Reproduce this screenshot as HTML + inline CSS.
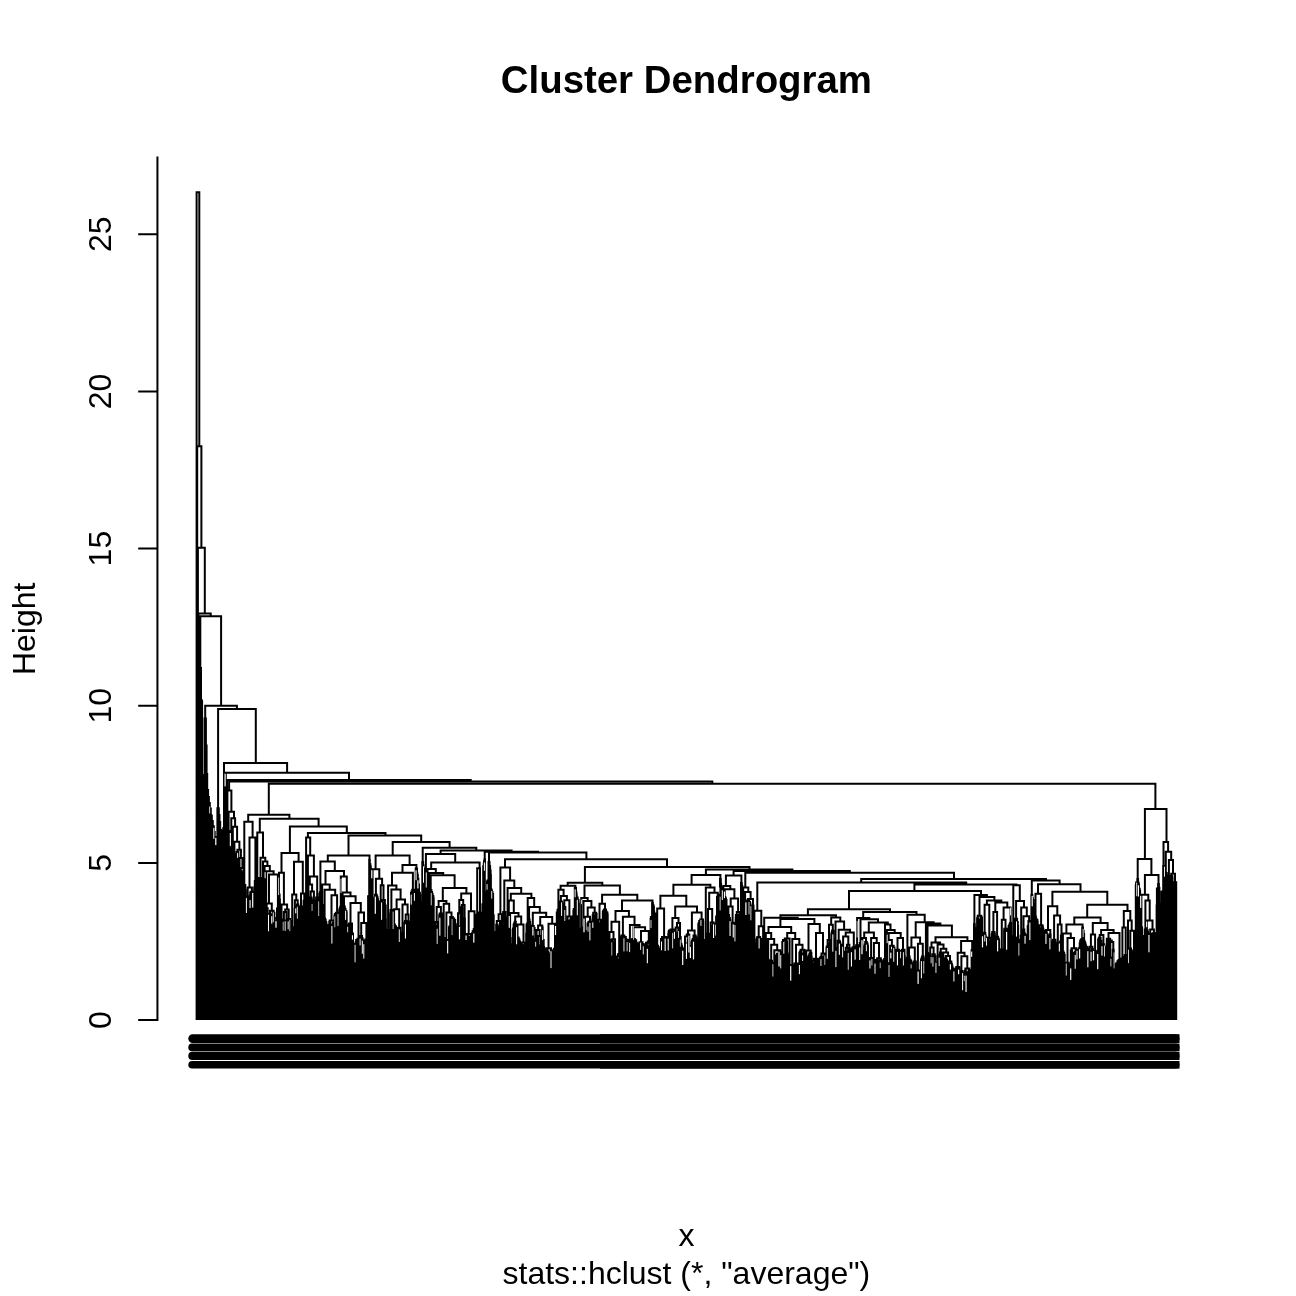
<!DOCTYPE html>
<html><head><meta charset="utf-8"><title>Cluster Dendrogram</title>
<style>
html,body{margin:0;padding:0;background:#fff;}
body{width:1296px;height:1296px;overflow:hidden;}
svg{display:block;}
text{font-family:"Liberation Sans",sans-serif;fill:#000;}
</style></head><body>
<svg width="1296" height="1296" viewBox="0 0 1296 1296">
<rect width="1296" height="1296" fill="#fff"/>
<text x="686.4" y="92.9" font-size="38.4" font-weight="bold" text-anchor="middle">Cluster Dendrogram</text>
<text x="686.4" y="1246" font-size="32" text-anchor="middle">x</text>
<text x="686.4" y="1284" font-size="32" text-anchor="middle">stats::hclust (*, "average")</text>
<text transform="translate(34.8 628.8) rotate(-90)" font-size="32" text-anchor="middle">Height</text>
<g font-size="32" text-anchor="middle">
<text transform="translate(111.1 1020) rotate(-90)">0</text>
<text transform="translate(111.1 862.9) rotate(-90)">5</text>
<text transform="translate(111.1 705.7) rotate(-90)">10</text>
<text transform="translate(111.1 548.6) rotate(-90)">15</text>
<text transform="translate(111.1 391.4) rotate(-90)">20</text>
<text transform="translate(111.1 234.3) rotate(-90)">25</text>
</g>
<path d="M157.44 156.4V1021M138.2 1020H157.44M138.2 862.9H157.44M138.2 705.7H157.44M138.2 548.6H157.44M138.2 391.4H157.44M138.2 234.3H157.44" stroke="#000" stroke-width="2" fill="none"/>
<path d="M198.4 1020V698.2H199.1V1020M200.9 1020V702.6H201.5V1020M201.2 702.6V701.3H202.1V1020M200.3 1020V700.1H201.6V701.3M199.7 1020V698.3H200.9V700.1M202.7 1020V853.6H203.3V1020M203 853.6V852.1H204V1020M204 852.1V850.1H204.6V1020M207.6 1020V848.8H208.2V1020M209.5 1020V843.4H210.1V1020M210.7 1020V844.6H211.3V1020M212.5 1020V841.8H213.1V1020M214.4 1020V844.8H215V1020M215.6 1020V853H216.2V1020M215.9 853V851.6H216.8V1020M219.9 1020V854.7H220.5V1020M221.1 1020V847.9H221.7V1020M221.4 847.9V842.3H222.3V1020M222.9 1020V831H223.6V1020M224.2 1020V831.1H224.8V1020M223.2 831V828.2H224.5V831.1M225.4 1020V844.7H226V1020M227.2 1020V846H227.8V1020M229.1 1020V835.7H229.7V1020M228.5 1020V831.1H229.4V835.7M230.3 1020V841H230.9V1020M230.6 841V835.8H231.5V1020M232.1 1020V857.8H232.7V1020M232.4 857.8V854.7H233.4V1020M235.2 1020V856.7H235.8V1020M234.6 1020V855.5H235.5V856.7M234 1020V853.9H234.8V855.5M237 1020V855.2H237.6V1020M236.4 1020V853.9H237.3V855.2M236.6 853.9V851.9H238.3V1020M238.9 1020V860.3H239.5V1020M240.7 1020V874H241.3V1020M241 874V872.7H241.9V1020M240.1 1020V871.3H241.5V872.7M242.5 1020V878.1H243.2V1020M242.9 878.1V876H243.8V1020M245 1020V890.1H245.6V1020M244.4 1020V885.1H245.3V890.1M247.4 1020V902.6H248.1V1020M246.8 1020V900.6H247.8V902.6M246.2 1020V898.9H246.9V900.6M248.7 1020V898.8H249.3V1020M246.6 898.9V896.8H249V898.8M249.9 1020V895.6H250.5V1020M250.2 895.6V893.1H251.1V1020M251.7 1020V895.9H252.3V1020M252 895.9V894.5H253V1020M252.7 894.5V893H253.6V1020M250.5 893.1V891.7H253.3V893M254.8 1020V889.2H255.4V1020M254.2 1020V887.4H255.1V889.2M254.8 887.4V881H256V1020M257.3 1020V881.5H257.9V1020M257.6 881.5V879.8H258.5V1020M256.6 1020V877.9H258V879.8M259.1 1020V882.2H259.7V1020M259.4 882.2V880.2H260.3V1020M260.9 1020V879.8H261.5V1020M259.8 880.2V878.1H261.2V879.8M262.2 1020V907.1H262.8V1020M262.5 907.1V905.1H263.4V1020M264.6 1020V901.4H265.2V1020M264 1020V889.8H264.9V901.4M265.8 1020V904.8H266.4V1020M268.3 1020V920.4H268.9V1020M267.7 1020V918.9H268.6V920.4M267.1 1020V908.2H267.7V918.9M270.1 1020V916.1H270.7V1020M269.5 1020V914H270.4V916.1M272 1020V918H272.6V1020M271.3 1020V916.6H272.3V918M273.2 1020V916.3H273.8V1020M271.9 916.6V914.6H273.5V916.3M272.7 914.6V912.8H274.4V1020M270 914V910.7H273.6V912.8M275 1020V928.6H275.6V1020M275.3 928.6V927.1H276.2V1020M275.9 927.1V925.7H276.9V1020M276.5 925.7V918H277.5V1020M277 918V908.6H278.1V1020M279.3 1020V899.5H279.9V1020M278.7 1020V894.5H279.6V899.5M281.1 1020V925.1H281.8V1020M281.4 925.1V923.5H282.4V1020M282 923.5V921.6H283V1020M280.5 1020V919.5H282.5V921.6M283.6 1020V927.6H284.2V1020M284.8 1020V930.1H285.4V1020M285.1 930.1V928.5H286V1020M285.9 928.5V920.4H286.7V1020M283.9 927.6V912H286.5V920.4M288.5 1020V924.5H289.1V1020M287.9 1020V922.6H288.8V924.5M287.3 1020V921H287.9V922.6M289.7 1020V921.1H290.3V1020M287.5 921V918.9H290V921.1M290.9 1020V931.3H291.6V1020M292.8 1020V933.2H293.4V1020M292.2 1020V931.1H293.1V933.2M292.5 931.1V929.2H294V1020M291.3 931.3V927.3H293.2V929.2M294.6 1020V908.7H295.2V1020M296.5 1020V913.1H297.1V1020M295.8 1020V909.3H296.8V913.1M296.3 909.3V906.8H297.7V1020M297 906.8V904.6H298.3V1020M294.9 908.7V900.3H297.7V904.6M298.9 1020V910.3H299.5V1020M299.2 910.3V908.6H300.1V1020M300.7 1020V910.7H301.4V1020M301.1 910.7V909.3H302V1020M301.8 909.3V907.9H302.6V1020M299.6 908.6V906.6H302.4V907.9M303.8 1020V912.1H304.4V1020M303.2 1020V910.4H304.1V912.1M303.6 910.4V900.7H305V1020M306.3 1020V901.3H306.9V1020M305.6 1020V899.5H306.6V901.3M307.5 1020V901.9H308.1V1020M308.7 1020V909H309.3V1020M310.5 1020V900.5H311.2V1020M310.9 900.5V899.2H311.8V1020M309.9 1020V897.4H311.5V899.2M312.4 1020V903.9H313V1020M312.7 903.9V902.3H313.6V1020M314.8 1020V905.1H315.5V1020M314.2 1020V903.6H315.1V905.1M313.2 902.3V900.8H314.6V903.6M316.7 1020V903.4H317.3V1020M317 903.4V901.4H317.9V1020M317.7 901.4V899.5H318.5V1020M316.1 1020V897.6H318.3V899.5M319.1 1020V898.7H319.7V1020M319.4 898.7V894.1H320.4V1020M319.8 894.1V892.3H321V1020M322.2 1020V914H322.8V1020M322.5 914V912H323.4V1020M321.6 1020V904.9H322.9V912M327.1 1020V927.6H327.7V1020M326.5 1020V925.6H327.4V927.6M325.9 1020V923.5H326.5V925.6M325.3 1020V922H326.2V923.5M324.6 1020V919.9H325.7V922M324 1020V918.5H325.2V919.9M328.3 1020V926.8H328.9V1020M328.6 926.8V925.1H329.5V1020M329.3 925.1V921.8H330.2V1020M330.8 1020V929.6H331.4V1020M331.1 929.6V928.1H332V1020M331.6 928.1V926H332.6V1020M332.2 926V924.6H333.2V1020M332.7 924.6V923.1H333.8V1020M329.7 921.8V920.5H333.3V923.1M335.7 1020V919.6H336.3V1020M335.1 1020V917.4H336V919.6M334.4 1020V915.8H335.2V917.4M336.9 1020V915.9H337.5V1020M334.8 915.8V914.1H337.2V915.9M338.1 1020V914.4H338.7V1020M335.9 914.1V912.8H338.4V914.4M339.3 1020V910.3H340V1020M339.6 910.3V908.7H340.6V1020M340.2 908.7V906.8H341.2V1020M341.8 1020V912.3H342.4V1020M342.1 912.3V908H343V1020M346.1 1020V912.5H346.7V1020M345.5 1020V910.9H346.4V912.5M344.9 1020V909H345.5V910.9M344.2 1020V907.3H344.9V909M343.6 1020V905.9H344.4V907.3M347.9 1020V930.9H348.5V1020M348.2 930.9V928.9H349.1V1020M347.3 1020V927H348.9V928.9M349.8 1020V926.9H350.4V1020M348.1 927V925.1H350.1V926.9M351.6 1020V946.4H352.2V1020M351.9 946.4V945.1H352.8V1020M353.4 1020V945.7H354V1020M352.4 945.1V943.8H353.7V945.7M351 1020V933.5H353V943.8M349 925.1V923.5H352V933.5M354.7 1020V945.9H355.3V1020M355 945.9V944H355.9V1020M355.7 944V942.2H356.5V1020M357.1 1020V944.9H357.7V1020M357.4 944.9V943.5H358.3V1020M358.2 943.5V941.4H358.9V1020M356.1 942.2V940.1H358.8V941.4M357.4 940.1V938.8H359.6V1020M360.2 1020V937.7H360.8V1020M362.6 1020V941H363.2V1020M362 1020V939.5H362.9V941M361.4 1020V938H362.5V939.5M360.5 937.7V935.9H362V938M363.8 1020V943.4H364.5V1020M365.7 1020V947H366.3V1020M365.1 1020V944.8H366V947M365.7 944.8V943.3H366.9V1020M364.2 943.4V941.4H366.3V943.3M365.2 941.4V939.5H367.5V1020M368.1 1020V896.3H368.7V1020M371.2 1020V901.9H371.8V1020M373 1020V908.3H373.7V1020M372.4 1020V903.5H373.3V908.3M374.3 1020V899.3H374.9V1020M374.6 899.3V897.8H375.5V1020M376.7 1020V900.7H377.3V1020M377 900.7V898.8H377.9V1020M376.1 1020V896.8H377.5V898.8M375 897.8V894.7H376.8V896.8M378.6 1020V908.6H379.2V1020M379.8 1020V907.2H380.4V1020M380.1 907.2V904.4H381V1020M378.9 908.6V902.6H380.6V904.4M379.8 902.6V901.4H381.6V1020M382.8 1020V905H383.5V1020M382.2 1020V902.6H383.1V905M384.7 1020V921.1H385.3V1020M385 921.1V919.3H385.9V1020M384.1 1020V905.6H385.7V919.3M386.5 1020V931.9H387.1V1020M387.7 1020V934.9H388.4V1020M388 934.9V933.4H389V1020M388.8 933.4V931.7H389.6V1020M386.8 931.9V930.2H389.4V931.7M390.8 1020V914.7H391.4V1020M390.2 1020V913.5H391.1V914.7M392 1020V912.3H392.6V1020M390.5 913.5V910H392.3V912.3M394.5 1020V931.4H395.1V1020M394.8 931.4V929.4H395.7V1020M395.4 929.4V928.1H396.3V1020M393.9 1020V926.3H396V928.1M393.3 1020V924.5H394.9V926.3M398.2 1020V935.5H398.8V1020M397.5 1020V933.4H398.5V935.5M396.9 1020V931.3H397.5V933.4M397.1 931.3V929.9H399.4V1020M400 1020V934.8H400.6V1020M398.3 929.9V927.8H400.3V934.8M401.2 1020V934.9H401.8V1020M402.4 1020V935.7H403.1V1020M402.8 935.7V934.2H403.7V1020M401.5 934.9V932.7H403.5V934.2M404.3 1020V933.1H404.9V1020M404.6 933.1V922.8H405.5V1020M406.1 1020V930.4H406.7V1020M405 922.8V921H406.4V930.4M407.3 1020V927.7H408V1020M409.2 1020V928.9H409.8V1020M409.5 928.9V924.8H410.4V1020M408.6 1020V923H410.2V924.8M407.7 927.7V921.5H409.4V923M411.6 1020V895.1H412.2V1020M411 1020V892.9H411.9V895.1M411.5 892.9V891.4H412.9V1020M413.5 1020V897.7H414.1V1020M412.2 891.4V889.7H413.8V897.7M414.7 1020V895.8H415.3V1020M415 895.8V890.5H415.9V1020M419.6 1020V895H420.2V1020M419 1020V892.8H419.9V895M418.4 1020V884.6H419V892.8M420.8 1020V904.3H421.4V1020M421.1 904.3V902.2H422V1020M423.9 1020V904.8H424.5V1020M425.1 1020V893.1H425.7V1020M425.4 893.1V886.9H426.3V1020M426.9 1020V893.9H427.6V1020M428.2 1020V900H428.8V1020M428.5 900V895.5H429.4V1020M431.2 1020V897.3H431.9V1020M433.1 1020V898.5H433.7V1020M432.5 1020V896.1H433.4V898.5M431.5 897.3V893.9H432.6V896.1M430.6 1020V891.9H432.1V893.9M430 1020V890.1H431.4V891.9M434.3 1020V924.9H434.9V1020M434.6 924.9V923.3H435.5V1020M436.1 1020V929.5H436.8V1020M436.4 929.5V927.6H437.4V1020M437.1 927.6V925.9H438V1020M437.7 925.9V923.9H438.6V1020M435.3 923.3V922H438.1V923.9M439.8 1020V916.6H440.4V1020M439.2 1020V915.3H440.1V916.6M441 1020V916.9H441.7V1020M441.3 916.9V915.7H442.3V1020M439.7 915.3V913.6H442.1V915.7M442.9 1020V939.5H443.5V1020M444.1 1020V939.7H444.7V1020M443.2 939.5V938.1H444.4V939.7M447.2 1020V946H447.8V1020M446.6 1020V944.8H447.5V946M445.9 1020V943H447.2V944.8M446.5 943V941.7H448.4V1020M445.3 1020V940H447.5V941.7M449.6 1020V930.6H450.2V1020M449 1020V927.6H449.9V930.6M449.5 927.6V926.3H450.8V1020M452.7 1020V930.4H453.3V1020M452.1 1020V925.9H453V930.4M452.5 925.9V922.1H453.9V1020M455.1 1020V928.5H455.7V1020M455.4 928.5V926.4H456.4V1020M454.5 1020V924.2H455.9V926.4M453.2 922.1V919.9H455.2V924.2M451.5 1020V918.4H454.2V919.9M450.2 926.3V917H452.8V918.4M457.6 1020V931H458.2V1020M457 1020V929.5H457.9V931M457.2 929.5V926.4H458.8V1020M459.4 1020V933.9H460V1020M459.7 933.9V928H460.6V1020M458 926.4V913.3H460.5V928M461.9 1020V931.3H462.5V1020M462.2 931.3V926.9H463.1V1020M461.3 1020V907.3H462.5V926.9M463.7 1020V921.6H464.3V1020M464 921.6V918.5H464.9V1020M461.9 907.3V905H464.6V918.5M459.3 913.3V900H463.2V905M465.5 1020V937.6H466.2V1020M467.4 1020V940.4H468V1020M466.8 1020V938.2H467.7V940.4M468.6 1020V939.1H469.2V1020M467 938.2V937H468.9V939.1M465.9 937.6V935.5H467.9V937M469.8 1020V941.6H470.4V1020M470.1 941.6V940.2H471.1V1020M466.8 935.5V933.9H470.6V940.2M471.7 1020V938.9H472.3V1020M472 938.9V933.3H472.9V1020M473.5 1020V935H474.1V1020M473.8 935V933.2H474.7V1020M472.7 933.3V931H474.6V933.2M473.7 931V929H475.3V1020M476 1020V927.2H476.6V1020M477.2 1020V918H477.8V1020M477.5 918V916.6H478.4V1020M476.3 927.2V914.8H478.3V916.6M479.6 1020V921.1H480.2V1020M479.9 921.1V916.8H480.9V1020M480.5 916.8V915.5H481.5V1020M479 1020V912.4H481V915.5M482.1 1020V928H482.7V1020M482.4 928V904.2H483.3V1020M485.8 1020V892.2H486.4V1020M487 1020V881.9H487.6V1020M487.3 881.9V880.4H488.2V1020M495 1020V936.1H495.6V1020M494.3 1020V934.2H495.3V936.1M493.7 1020V932H494.3V934.2M493.1 1020V915.2H493.7V932M492.5 1020V894H493.1V915.2M491.9 1020V892.1H492.5V894M491.3 1020V890.3H491.9V892.1M490.7 1020V888.9H491.3V890.3M496.8 1020V926.2H497.4V1020M496.2 1020V924.8H497.1V926.2M498 1020V929.6H498.6V1020M498.3 929.6V927.9H499.2V1020M498.9 927.9V926.4H499.9V1020M499.5 926.4V924.4H500.5V1020M500 924.4V923.1H501.1V1020M496.8 924.8V920.9H500.5V923.1M501.7 1020V917.1H502.3V1020M498.6 920.9V914.3H502V917.1M504.1 1020V918.2H504.8V1020M503.5 1020V915.8H504.4V918.2M502.9 1020V913.8H503.5V915.8M503.2 913.8V911.9H505.4V1020M506 1020V920.7H506.6V1020M506.3 920.7V918.8H507.2V1020M507 918.8V917.6H507.8V1020M508.4 1020V929.8H509V1020M511.5 1020V947.9H512.1V1020M510.9 1020V946.1H511.8V947.9M510.3 1020V944.6H510.9V946.1M509.7 1020V937.9H510.5V944.6M512.7 1020V930H513.3V1020M513 930V928.6H513.9V1020M513.6 928.6V924.6H514.6V1020M514.1 924.6V923.4H515.2V1020M514.6 923.4V921.7H515.8V1020M517 1020V942.1H517.6V1020M517.3 942.1V940.7H518.2V1020M519.5 1020V942.3H520.1V1020M518.8 1020V941H519.8V942.3M517.9 940.7V939.3H519.4V941M516.4 1020V937.6H518.6V939.3M521.3 1020V949.9H521.9V1020M521.6 949.9V948.1H522.5V1020M522 948.1V946.8H523.1V1020M520.7 1020V944.7H522.5V946.8M523.7 1020V947.2H524.4V1020M524.1 947.2V945.3H525V1020M524.8 945.3V943.9H525.6V1020M521.6 944.7V942.6H525.4V943.9M526.2 1020V933.7H526.8V1020M526.5 933.7V924.7H527.4V1020M527.1 924.7V923.4H528V1020M529.9 1020V925H530.5V1020M529.3 1020V922H530.2V925M528.6 1020V919.5H529.6V922M531.1 1020V929.1H531.7V1020M531.4 929.1V927.7H532.3V1020M534.2 1020V942.4H534.8V1020M534.5 942.4V940.5H535.4V1020M535 940.5V939H536V1020M533.5 1020V929.9H535.7V939M532.9 1020V927.9H534.6V929.9M531.8 927.7V926H533.8V927.9M537.8 1020V950.7H538.4V1020M538.1 950.7V949.3H539.1V1020M538.7 949.3V947.4H539.7V1020M537.2 1020V945.4H539.2V947.4M540.3 1020V950.9H540.9V1020M540.6 950.9V937.4H541.5V1020M538.2 945.4V935.9H541.1V937.4M536.6 1020V930.1H539.6V935.9M543.4 1020V947H544V1020M542.7 1020V939.9H543.7V947M542.1 1020V927.6H542.7V939.9M538.1 930.1V925.5H542.3V927.6M545.8 1020V953.9H546.4V1020M545.2 1020V952.3H546.1V953.9M544.6 1020V951H545.2V952.3M549.5 1020V958.7H550.1V1020M548.9 1020V957.2H549.8V958.7M548.3 1020V955.1H549V957.2M547.6 1020V953.3H548.6V955.1M547 1020V951.7H548.1V953.3M544.9 951V949.5H547.6V951.7M550.7 1020V949.9H551.3V1020M546.2 949.5V948.2H551V949.9M552.5 1020V957.5H553.2V1020M552.8 957.5V955.8H553.8V1020M553.3 955.8V954.1H554.4V1020M551.9 1020V952.1H553.8V954.1M552.9 952.1V950.5H555V1020M555.6 1020V954.9H556.2V1020M553.9 950.5V948.7H555.9V954.9M557.4 1020V916.8H558.1V1020M557.7 916.8V914.7H558.7V1020M556.8 1020V912.5H558.2V914.7M557.5 912.5V909.7H559.3V1020M560.5 1020V907.2H561.1V1020M560.8 907.2V905.5H561.7V1020M561.5 905.5V903.6H562.3V1020M559.9 1020V901.5H561.9V903.6M563 1020V908.4H563.6V1020M564.2 1020V910.3H564.8V1020M564.5 910.3V908.5H565.4V1020M563.3 908.4V907.1H565.3V908.5M567.2 1020V924.7H567.9V1020M566.6 1020V923.5H567.5V924.7M566 1020V921.9H566.7V923.5M568.5 1020V921.8H569.1V1020M566.4 921.9V920.4H568.8V921.8M569.7 1020V922.7H570.3V1020M570 922.7V920.6H570.9V1020M570.4 920.6V919.2H571.5V1020M572.1 1020V919.4H572.8V1020M571 919.2V917.8H572.5V919.4M573.4 1020V911.1H574V1020M573.7 911.1V908.9H574.6V1020M575.2 1020V904.8H575.8V1020M578.3 1020V903.7H578.9V1020M577.7 1020V900.2H578.6V903.7M577 1020V897.5H577.7V900.2M580.1 1020V936.8H580.7V1020M579.5 1020V932.6H580.4V936.8M579.8 932.6V930.9H581.3V1020M580.6 930.9V928.8H581.9V1020M582.6 1020V928.6H583.2V1020M582.9 928.6V927.4H583.8V1020M586.2 1020V936.5H586.8V1020M585.6 1020V934.9H586.5V936.5M585 1020V932.8H585.8V934.9M584.4 1020V931.1H585.4V932.8M588.1 1020V929.3H588.7V1020M588.4 929.3V927.2H589.3V1020M588.8 927.2V925.1H589.9V1020M587.5 1020V923.6H589.4V925.1M590.5 1020V926.9H591.1V1020M590.8 926.9V923.7H591.7V1020M588.4 923.6V921.7H591.6V923.7M592.4 1020V919.4H593V1020M593.6 1020V916.6H594.2V1020M592.7 919.4V915.2H593.9V916.6M594.8 1020V919H595.4V1020M595.1 919V915.3H596V1020M595.8 915.3V914H596.6V1020M593.2 915.2V912.8H596.2V914M599.1 1020V929.5H599.7V1020M599.4 929.5V927.6H600.3V1020M598.5 1020V925.5H600V927.6M597.9 1020V923.6H599.2V925.5M597.3 1020V922H598.6V923.6M601.6 1020V923.7H602.2V1020M600.9 1020V922H601.9V923.7M597.9 922V919.7H601.1V922M603.4 1020V913.5H604V1020M602.8 1020V911.9H603.7V913.5M604.6 1020V914.3H605.2V1020M603.2 911.9V910.7H604.9V914.3M607.1 1020V914.4H607.7V1020M606.5 1020V912.6H607.4V914.4M605.8 1020V911.4H606.5V912.6M604 910.7V909.4H606V911.4M608.3 1020V949.6H608.9V1020M608.6 949.6V947.2H609.5V1020M608.9 947.2V940.1H610.1V1020M611.4 1020V951.2H612V1020M610.7 1020V942.4H611.7V951.2M613.8 1020V946H614.4V1020M613.2 1020V944.2H614.1V946M612.6 1020V942.2H613.2V944.2M611.1 942.4V940.8H612.7V942.2M611.9 940.8V939.2H615V1020M609.5 940.1V931.9H613.5V939.2M618.1 1020V965.5H618.7V1020M617.5 1020V963.7H618.4V965.5M616.9 1020V961.8H618V963.7M616.3 1020V959.8H617.4V961.8M615.6 1020V958.5H616.9V959.8M619.3 1020V959.1H619.9V1020M616.2 958.5V956.4H619.6V959.1M617.9 956.4V954.3H620.5V1020M621.2 1020V936.8H621.8V1020M623 1020V940.1H623.6V1020M622.4 1020V938.6H623.3V940.1M624.2 1020V942.1H624.8V1020M624.5 942.1V940.7H625.4V1020M625.2 940.7V939.1H626.1V1020M622.8 938.6V936.9H625.8V939.1M621.5 936.8V935.4H624.3V936.9M627.9 1020V948.9H628.5V1020M627.3 1020V947.1H628.2V948.9M629.1 1020V947.1H629.7V1020M627.5 947.1V945.2H629.4V947.1M630.3 1020V945H631V1020M628.4 945.2V943.4H630.7V945M626.7 1020V941.3H629.6V943.4M628.1 941.3V939.7H631.6V1020M634 1020V947.2H634.6V1020M633.4 1020V945.5H634.3V947.2M633.8 945.5V943.6H635.2V1020M632.8 1020V941.8H634.5V943.6M636.5 1020V944.2H637.1V1020M635.9 1020V942.7H636.8V944.2M633.7 941.8V940.2H636.2V942.7M632.2 1020V939H634.9V940.2M638.3 1020V948.2H638.9V1020M637.7 1020V946.8H638.6V948.2M637.9 946.8V945.6H639.5V1020M640.1 1020V945H640.8V1020M638.7 945.6V943.5H640.5V945M642 1020V947.5H642.6V1020M641.4 1020V945.7H642.3V947.5M643.8 1020V947.4H644.4V1020M643.2 1020V945.8H644.1V947.4M641.6 945.7V944H643.4V945.8M639.5 943.5V942.3H642.5V944M646.3 1020V950H646.9V1020M645.7 1020V948.3H646.6V950M648.1 1020V950H648.7V1020M647.5 1020V948.1H648.4V950M646.1 948.3V946.3H647.7V948.1M645 1020V944.5H646.9V946.3M646 944.5V942.8H649.3V1020M647.7 942.8V941.5H649.9V1020M650.6 1020V918.8H651.2V1020M650.9 918.8V916.9H651.8V1020M654.8 1020V915.3H655.5V1020M654.2 1020V913.4H655.2V915.3M653.6 1020V911.7H654.2V913.4M656.1 1020V947.4H656.7V1020M658.5 1020V952.3H659.1V1020M659.8 1020V952H660.4V1020M658.8 952.3V950.1H660.1V952M657.9 1020V948.8H659.4V950.1M657.3 1020V947H658.6V948.8M656.4 947.4V945.7H658V947M661.6 1020V943.9H662.2V1020M661.9 943.9V942.1H662.8V1020M662.6 942.1V940.8H663.4V1020M661 1020V939H663V940.8M664 1020V941.8H664.7V1020M664.3 941.8V939.8H665.3V1020M665.9 1020V942.8H666.5V1020M666.2 942.8V941.5H667.1V1020M666.9 941.5V940.3H667.7V1020M664.8 939.8V938.3H667.6V940.3M662 939V937H666.2V938.3M668.3 1020V934H668.9V1020M668.6 934V931.9H669.6V1020M671.4 1020V939.8H672V1020M670.8 1020V937.9H671.7V939.8M671 937.9V936H672.6V1020M670.2 1020V934.4H671.8V936M671 934.4V932.7H673.2V1020M668.9 931.9V930.6H672.1V932.7M674.5 1020V934.1H675.1V1020M673.8 1020V932H674.8V934.1M670.5 930.6V929.4H674.3V932M676.3 1020V938.9H676.9V1020M676.6 938.9V936.8H677.5V1020M677.2 936.8V935.5H678.1V1020M677.8 935.5V932.7H678.7V1020M675.7 1020V927.6H678.3V932.7M680.6 1020V948.3H681.2V1020M682.4 1020V949.7H683V1020M681.8 1020V947.7H682.7V949.7M680.9 948.3V945.7H682V947.7M680 1020V943.7H681.4V945.7M679.4 1020V937H680.7V943.7M677 927.6V923.1H680V937M684.9 1020V955.1H685.5V1020M684.3 1020V951.6H685.2V955.1M683.6 1020V950.4H684.3V951.6M683.9 950.4V949H686.1V1020M686.7 1020V955.7H687.3V1020M687 955.7V943.4H687.9V1020M687.8 943.4V939.5H688.5V1020M685 949V936.5H688.4V939.5M690.4 1020V952.5H691V1020M689.8 1020V950.5H690.7V952.5M689.2 1020V946.1H689.8V950.5M686.7 936.5V934.4H689.3V946.1M691.6 1020V942.4H692.2V1020M692.8 1020V942.5H693.4V1020M691.9 942.4V940.7H693.1V942.5M694.1 1020V940.9H694.7V1020M692.6 940.7V938.9H694.4V940.9M697.1 1020V942.9H697.7V1020M696.5 1020V941H697.4V942.9M695.9 1020V939.1H696.5V941M695.3 1020V937.3H696.2V939.1M693.5 938.9V935.6H695.7V937.3M698.3 1020V924.2H699V1020M699.6 1020V925H700.2V1020M698.7 924.2V922.9H699.9V925M700.8 1020V923H701.4V1020M699.2 922.9V921.1H701.1V923M702 1020V924H702.6V1020M702.3 924V921.7H703.2V1020M700.2 921.1V919.4H703V921.7M703.9 1020V946.2H704.5V1020M704.2 946.2V944.2H705.1V1020M704.7 944.2V942H705.7V1020M705.2 942V940H706.3V1020M707.5 1020V942.8H708.1V1020M706.9 1020V940.1H707.8V942.8M709.4 1020V940H710V1020M708.8 1020V935.5H709.7V940M707.1 940.1V933.8H708.9V935.5M711.2 1020V929.8H711.8V1020M711.5 929.8V927.2H712.4V1020M712.3 927.2V925.6H713V1020M713.7 1020V929.2H714.3V1020M714 929.2V927.5H714.9V1020M712.9 925.6V924.3H714.7V927.5M710.6 1020V922.5H713.8V924.3M716.1 1020V942.2H716.7V1020M716.4 942.2V940H717.3V1020M715.5 1020V938.3H716.7V940M716.1 938.3V916.4H718V1020M717 916.4V896.8H718.6V1020M719.2 1020V896H719.8V1020M719.5 896V894.7H720.4V1020M725.3 1020V901.7H725.9V1020M725.6 901.7V900H726.5V1020M724.7 1020V898.5H726V900M724.1 1020V896.9H725.3V898.5M727.8 1020V920H728.4V1020M727.1 1020V916.3H728.1V920M729.6 1020V920H730.2V1020M729 1020V918H729.9V920M727.7 916.3V914.9H729.1V918M730.8 1020V924.3H731.4V1020M732 1020V929.1H732.7V1020M732.3 929.1V927.1H733.3V1020M732.8 927.1V925.6H733.9V1020M734.5 1020V925.3H735.1V1020M733.4 925.6V924.1H734.8V925.3M731.1 924.3V922.7H734.2V924.1M736.3 1020V919.9H736.9V1020M735.7 1020V917.7H736.6V919.9M738.2 1020V918H738.8V1020M737.6 1020V916.1H738.5V918M735.9 917.7V914.9H737.7V916.1M736.8 914.9V911.9H739.4V1020M740 1020V915.1H740.6V1020M740.3 915.1V912.6H741.2V1020M744.9 1020V906H745.5V1020M745.2 906V904.5H746.1V1020M744.3 1020V900.6H745.9V904.5M747.4 1020V905.5H748V1020M747.7 905.5V903.5H748.6V1020M749.2 1020V904.9H749.8V1020M749.5 904.9V903.4H750.4V1020M748.1 903.5V902H750V903.4M746.7 1020V900.5H749.1V902M751 1020V910H751.6V1020M751.3 910V908.3H752.3V1020M751.9 908.3V906.7H752.9V1020M752.5 906.7V905.5H753.5V1020M755.3 1020V947.1H755.9V1020M754.7 1020V945.8H755.6V947.1M754.1 1020V943.7H754.7V945.8M756.5 1020V939.8H757.2V1020M756.9 939.8V938.2H757.8V1020M758.4 1020V941.8H759V1020M758.7 941.8V939.9H759.6V1020M760.2 1020V940.3H760.8V1020M759.4 939.9V938.4H760.5V940.3M757.3 938.2V936.9H760.1V938.4M761.4 1020V942H762.1V1020M761.8 942V940.4H762.7V1020M762.5 940.4V938.9H763.3V1020M763.9 1020V941.5H764.5V1020M765.7 1020V948.3H766.3V1020M766 948.3V945.8H767V1020M765.1 1020V939.2H766.5V945.8M768.2 1020V967.4H768.8V1020M768.5 967.4V965.6H769.4V1020M767.6 1020V959.8H768.8V965.6M770.6 1020V964.3H771.2V1020M770 1020V962.1H770.9V964.3M773.1 1020V966.1H773.7V1020M772.5 1020V964.8H773.4V966.1M771.9 1020V962.8H772.5V964.8M770.4 962.1V960.8H772V962.8M774.9 1020V960.7H775.5V1020M775.2 960.7V959.2H776.2V1020M775.7 959.2V957.1H776.8V1020M777.4 1020V957H778V1020M776.2 957.1V955.6H777.7V957M778.6 1020V958.5H779.2V1020M778.9 958.5V956.9H779.8V1020M779.7 956.9V955.1H780.4V1020M777 955.6V953.8H780.3V955.1M781.1 1020V956.9H781.7V1020M778.7 953.8V952H781.4V956.9M774.3 1020V950.2H780.1V952M784.1 1020V960.4H784.7V1020M783.5 1020V946.8H784.4V960.4M784.1 946.8V945.1H785.3V1020M782.9 1020V943.4H784.7V945.1M782.3 1020V942H783.8V943.4M788.4 1020V958.9H789V1020M787.8 1020V957H788.7V958.9M787.2 1020V955.7H787.9V957M786.6 1020V953.6H787.5V955.7M786 1020V941.6H787.1V953.6M783 942V940H786.5V941.6M784.8 940V938.4H789.6V1020M790.2 1020V969.2H790.9V1020M791.5 1020V969H792.1V1020M790.5 969.2V967.3H791.8V969M792.7 1020V967.9H793.3V1020M793 967.9V966.5H793.9V1020M791.2 967.3V965.1H793.4V966.5M795.8 1020V970.2H796.4V1020M797 1020V972.3H797.6V1020M797.3 972.3V970.5H798.2V1020M796.1 970.2V968.4H798.1V970.5M795.1 1020V966.6H797.1V968.4M796.1 966.6V964.9H798.8V1020M794.5 1020V963.4H797.5V964.9M800 1020V954.9H800.7V1020M799.4 1020V952.7H800.3V954.9M799.9 952.7V951.5H801.3V1020M801.9 1020V958.8H802.5V1020M802.2 958.8V956.8H803.1V1020M802.7 956.8V954.6H803.7V1020M803.4 954.6V953.4H804.3V1020M803.8 953.4V951.2H804.9V1020M800.6 951.5V949.8H804.4V951.2M805.6 1020V967.3H806.2V1020M805.9 967.3V962.7H806.8V1020M808 1020V961.7H808.6V1020M807.4 1020V959.6H808.3V961.7M807.9 959.6V957.6H809.2V1020M808.6 957.6V956H809.8V1020M809.2 956V954.3H810.5V1020M811.1 1020V957.1H811.7V1020M809.8 954.3V952.7H811.4V957.1M806.3 962.7V950.6H810.7V952.7M812.9 1020V966.7H813.5V1020M813.2 966.7V965.2H814.1V1020M813.9 965.2V963.8H814.7V1020M815.4 1020V965.6H816V1020M815.7 965.6V963.9H816.6V1020M814.6 963.8V962.4H816.4V963.9M812.3 1020V960.7H815.5V962.4M817.2 1020V961.8H817.8V1020M818.4 1020V962.3H819V1020M817.5 961.8V960.6H818.7V962.3M813.9 960.7V958.7H818.1V960.6M819.6 1020V959.7H820.3V1020M820.9 1020V959.3H821.5V1020M820 959.7V958H821.2V959.3M822.1 1020V958.2H822.7V1020M820.5 958V956.7H822.4V958.2M823.3 1020V958.1H823.9V1020M824.5 1020V959.9H825.2V1020M824.9 959.9V958.3H825.8V1020M823.6 958.1V956.4H825.5V958.3M821.5 956.7V953.5H824.5V956.4M826.4 1020V948.2H827V1020M827.6 1020V950.4H828.2V1020M827.9 950.4V948.5H828.8V1020M826.7 948.2V946.5H828.6V948.5M829.4 1020V943.5H830.1V1020M829.8 943.5V941.7H830.7V1020M827.6 946.5V940H830.4V941.7M831.3 1020V934.5H831.9V1020M831.6 934.5V932.7H832.5V1020M833.1 1020V939.8H833.7V1020M832 932.7V930.8H833.4V939.8M834.4 1020V951.7H835V1020M835.6 1020V952.2H836.2V1020M835.9 952.2V950.2H836.8V1020M834.7 951.7V948.1H836.4V950.2M838 1020V952.9H838.6V1020M837.4 1020V950.8H838.3V952.9M841.1 1020V953.6H841.7V1020M840.5 1020V944.9H841.4V953.6M839.9 1020V943.6H840.5V944.9M839.3 1020V942.1H840.1V943.6M837.7 950.8V940.8H839.7V942.1M842.9 1020V958.3H843.5V1020M843.2 958.3V955.9H844.2V1020M842.3 1020V953.5H844V955.9M844.8 1020V956H845.4V1020M846.6 1020V958.6H847.2V1020M846 1020V953H846.9V958.6M845.1 956V951.7H846.4V953M847.8 1020V959.1H848.4V1020M845.8 951.7V947.7H848.1V959.1M849.1 1020V957.8H849.7V1020M847 947.7V944.8H849.4V957.8M843.1 953.5V936.4H848.3V944.8M850.9 1020V958.3H851.5V1020M852.1 1020V958.7H852.7V1020M852.4 958.7V956.3H853.3V1020M851.2 958.3V952.2H852.9V956.3M850.3 1020V950.5H852.1V952.2M851.2 950.5V948.6H854V1020M854.6 1020V958H855.2V1020M852.6 948.6V947.3H854.9V958M855.8 1020V954.1H856.4V1020M857 1020V955H857.6V1020M857.3 955V950.3H858.2V1020M856.1 954.1V945.2H858V950.3M858.9 1020V957.4H859.5V1020M859.2 957.4V952.5H860.1V1020M860.7 1020V956.9H861.3V1020M859.8 952.5V943H861V956.9M863.1 1020V957.4H863.8V1020M862.5 1020V952.6H863.5V957.4M861.9 1020V951.3H862.7V952.6M864.4 1020V946.5H865V1020M864.7 946.5V944.7H865.6V1020M867.4 1020V946.3H868V1020M866.8 1020V944.6H867.7V946.3M866.2 1020V943.2H867.4V944.6M865.2 944.7V941.9H866.8V943.2M868.7 1020V962.2H869.3V1020M869.9 1020V962.8H870.5V1020M870.2 962.8V961.6H871.1V1020M869 962.2V960.1H871V961.6M871.7 1020V962.1H872.3V1020M870 960.1V958H872V962.1M874.2 1020V964H874.8V1020M873.6 1020V962.7H874.5V964M875.4 1020V963.1H876V1020M874.2 962.7V961.5H875.7V963.1M872.9 1020V960H874.9V961.5M876.6 1020V961.6H877.2V1020M876.9 961.6V959.5H877.8V1020M878.5 1020V965.1H879.1V1020M878.8 965.1V963.4H879.7V1020M879.5 963.4V961.3H880.3V1020M880.9 1020V961.9H881.5V1020M880.1 961.3V960H881.2V961.9M877.2 959.5V958.2H880.8V960M882.7 1020V965.1H883.4V1020M882.1 1020V963.6H883.1V965.1M882.7 963.6V962.2H884V1020M884.6 1020V962.2H885.2V1020M883.3 962.2V960.4H884.9V962.2M884.2 960.4V959.1H885.8V1020M886.4 1020V949.5H887V1020M888.9 1020V966.5H889.5V1020M888.3 1020V964.5H889.2V966.5M887.6 1020V963.2H888.3V964.5M890.7 1020V957.3H891.3V1020M891 957.3V955.2H891.9V1020M891.8 955.2V951.8H892.6V1020M893.2 1020V957.9H893.8V1020M892.4 951.8V950.1H893.5V957.9M893 950.1V947.4H894.4V1020M890.1 1020V945.7H893.7V947.4M895.6 1020V955.7H896.2V1020M895.9 955.7V954.3H896.8V1020M896.6 954.3V953H897.5V1020M895 1020V951.7H897V953M898.1 1020V953.3H898.7V1020M899.3 1020V953.9H899.9V1020M898.4 953.3V951.9H899.6V953.9M896 951.7V949.8H899V951.9M901.1 1020V957.9H901.7V1020M901.4 957.9V956H902.4V1020M901.9 956V954.7H903V1020M902.4 954.7V953.2H903.6V1020M900.5 1020V951H903V953.2M904.2 1020V956.2H904.8V1020M901.8 951V949.7H904.5V956.2M905.4 1020V963.2H906V1020M905.7 963.2V961.6H906.6V1020M906.3 961.6V960H907.3V1020M906.9 960V957.9H907.9V1020M910.9 1020V962.5H911.5V1020M910.3 1020V960.6H911.2V962.5M909.7 1020V959.4H910.3V960.6M909.1 1020V957.4H909.7V959.4M908.5 1020V955.9H909.4V957.4M912.2 1020V966.7H912.8V1020M912.5 966.7V964.6H913.4V1020M914 1020V967.1H914.6V1020M914.3 967.1V965.2H915.2V1020M912.8 964.6V963.3H914.8V965.2M913.8 963.3V961.4H915.8V1020M917.7 1020V975.4H918.3V1020M917.1 1020V973.8H918V975.4M916.4 1020V972H917.1V973.8M919.5 1020V974.4H920.1V1020M918.9 1020V972.5H919.8V974.4M916.8 972V970.4H919V972.5M920.7 1020V962.5H921.3V1020M921 962.5V960.3H922V1020M921.3 960.3V958.4H922.6V1020M923.2 1020V958.4H923.8V1020M922 958.4V956.6H923.5V958.4M924.4 1020V967.5H925V1020M924.7 967.5V965.6H925.6V1020M925.3 965.6V963.9H926.2V1020M927.5 1020V956.5H928.1V1020M927.8 956.5V955.2H928.7V1020M926.9 1020V953.1H928.1V955.2M930.5 1020V963H931.1V1020M929.9 1020V960.9H930.8V963M930.4 960.9V958.9H931.8V1020M929.3 1020V957.1H931.1V958.9M933 1020V961.2H933.6V1020M933.3 961.2V959.2H934.2V1020M933.6 959.2V957.6H934.8V1020M934.2 957.6V956.3H935.4V1020M932.4 1020V954.2H934.8V956.3M936.7 1020V965.5H937.3V1020M936 1020V964.1H937V965.5M937.9 1020V965H938.5V1020M938.2 965V963.5H939.1V1020M936.4 964.1V962.3H938.9V963.5M939.7 1020V954.8H940.3V1020M940.9 1020V954.3H941.6V1020M940 954.8V952.6H941.3V954.3M942.8 1020V969.8H943.4V1020M942.2 1020V967.9H943.1V969.8M942.4 967.9V966.3H944V1020M944.6 1020V961.2H945.2V1020M947.1 1020V963H947.7V1020M946.5 1020V961.7H947.4V963M945.9 1020V959.9H947V961.7M944.9 961.2V958.3H946.4V959.9M949.5 1020V966.7H950.1V1020M948.9 1020V965.3H949.8V966.7M948.3 1020V963.7H949.1V965.3M953.2 1020V970.5H953.8V1020M952.6 1020V968.7H953.5V970.5M952 1020V967.3H952.7V968.7M951.4 1020V965.6H952.3V967.3M950.8 1020V963.8H951.9V965.6M948.7 963.7V961.6H951.3V963.8M955 1020V973.4H955.7V1020M954.4 1020V971.6H955.3V973.4M954.9 971.6V969.9H956.3V1020M955.6 969.9V968.5H956.9V1020M957.5 1020V974.7H958.1V1020M957.8 974.7V972.1H958.7V1020M958.6 972.1V968.3H959.3V1020M956.2 968.5V967.1H959.2V968.3M959.9 1020V979.3H960.6V1020M961.2 1020V979H961.8V1020M963 1020V977.1H963.6V1020M962.4 1020V975.7H963.3V977.1M962.7 975.7V973.8H964.2V1020M961.5 979V972.5H963.5V973.8M960.2 979.3V971H962.5V972.5M965.5 1020V972H966.1V1020M964.8 1020V970.7H965.8V972M966.7 1020V977.3H967.3V1020M967 977.3V975.9H967.9V1020M967.5 975.9V974.2H968.5V1020M968.1 974.2V972.2H969.1V1020M968.6 972.2V970.1H969.7V1020M965.4 970.7V968.5H969.2V970.1M971 1020V981.3H971.6V1020M970.4 1020V979.1H971.3V981.3M970.9 979.1V973.3H972.2V1020M971.6 973.3V950H972.8V1020M972.2 950V942.4H973.4V1020M975.9 1020V930.8H976.5V1020M975.3 1020V929.3H976.2V930.8M974.6 1020V927.9H975.3V929.3M974 1020V924.2H974.8V927.9M978.3 1020V921.9H978.9V1020M977.7 1020V920H978.6V921.9M977.1 1020V918.3H978.2V920M980.2 1020V923H980.8V1020M979.5 1020V921.7H980.5V923M979.9 921.7V919.8H981.4V1020M980.7 919.8V917.6H982V1020M977.7 918.3V915.7H981.3V917.6M982.6 1020V937H983.2V1020M982.9 937V935.5H983.8V1020M983.3 935.5V934.1H984.4V1020M986.3 1020V939.6H986.9V1020M985.7 1020V937.4H986.6V939.6M985.1 1020V935.4H985.7V937.4M983.9 934.1V932.8H985.3V935.4M987.5 1020V939.3H988.1V1020M988.7 1020V944.6H989.3V1020M989 944.6V942.8H990V1020M989.7 942.8V941.4H990.6V1020M990.3 941.4V939.3H991.2V1020M987.8 939.3V937.7H990.7V939.3M992.4 1020V936.3H993V1020M991.8 1020V934.2H992.7V936.3M993.6 1020V936H994.2V1020M993.9 936V934.1H994.9V1020M992.2 934.2V932H994.6V934.1M996.1 1020V942.3H996.7V1020M996.4 942.3V940.2H997.3V1020M995.5 1020V939H996.8V940.2M998.5 1020V940.6H999.1V1020M997.9 1020V938.7H998.8V940.6M996.1 939V936.8H998.1V938.7M1000.4 1020V954.6H1001V1020M999.8 1020V952.9H1000.7V954.6M1000 952.9V950.9H1001.6V1020M1002.8 1020V952.4H1003.4V1020M1002.2 1020V950.8H1003.1V952.4M1000.8 950.9V949.4H1002.8V950.8M1005.3 1020V934.2H1005.9V1020M1004.7 1020V932.5H1005.6V934.2M1004.1 1020V930.6H1004.7V932.5M1007.1 1020V934.1H1007.7V1020M1006.5 1020V932.3H1007.4V934.1M1004.3 930.6V928.8H1006.7V932.3M1008.3 1020V931H1009V1020M1008.6 931V926H1009.6V1020M1009.3 926V924.5H1010.2V1020M1010.8 1020V936H1011.4V1020M1010 924.5V923.1H1011.1V936M1012 1020V943.7H1012.6V1020M1013.2 1020V945.4H1013.9V1020M1013.5 945.4V942.5H1014.5V1020M1012.3 943.7V940.5H1014.2V942.5M1015.7 1020V940.9H1016.3V1020M1016 940.9V928.9H1016.9V1020M1017.5 1020V926H1018.1V1020M1016.5 928.9V921.9H1017.8V926M1015.1 1020V918.8H1017.1V921.9M1019.4 1020V946.1H1020V1020M1018.8 1020V944H1019.7V946.1M1019.3 944V942H1020.6V1020M1020 942V940H1021.2V1020M1020.6 940V935.8H1021.8V1020M1022.4 1020V937.4H1023V1020M1024.9 1020V938.5H1025.5V1020M1025.2 938.5V936.5H1026.1V1020M1024.3 1020V934.7H1025.7V936.5M1023.7 1020V933.4H1025V934.7M1022.7 937.4V929.5H1024.3V933.4M1026.7 1020V948.7H1027.3V1020M1027.9 1020V943.7H1028.6V1020M1027 948.7V942.4H1028.2V943.7M1027.7 942.4V926H1029.2V1020M1028.4 926V921H1029.8V1020M1030.4 1020V921.3H1031V1020M1034.1 1020V921.5H1034.7V1020M1033.5 1020V918H1034.4V921.5M1037.1 1020V921.8H1037.7V1020M1036.5 1020V920H1037.4V921.8M1035.9 1020V918.7H1036.5V920M1035.3 1020V916.5H1035.9V918.7M1039 1020V932.2H1039.6V1020M1038.4 1020V930.3H1039.3V932.2M1040.8 1020V931.5H1041.4V1020M1040.2 1020V930.2H1041.1V931.5M1038.8 930.3V928.4H1040.7V930.2M1043.9 1020V932.6H1044.5V1020M1043.3 1020V930.8H1044.2V932.6M1042.6 1020V928.7H1043.3V930.8M1042 1020V926.6H1042.9V928.7M1039.7 928.4V925.3H1042.5V926.6M1045.7 1020V936.3H1046.3V1020M1047.5 1020V939H1048.2V1020M1048.8 1020V938.7H1049.4V1020M1047.9 939V936.8H1049.1V938.7M1046.9 1020V935.5H1048.4V936.8M1046 936.3V934.2H1047.7V935.5M1045.1 1020V932.2H1046.8V934.2M1050 1020V934.6H1050.6V1020M1045.9 932.2V930H1050.3V934.6M1051.2 1020V944.7H1051.8V1020M1051.5 944.7V943H1052.4V1020M1052.2 943V941.7H1053.1V1020M1053.7 1020V946.1H1054.3V1020M1054 946.1V944H1054.9V1020M1054.7 944V941.9H1055.5V1020M1052.8 941.7V939.8H1055.4V941.9M1056.1 1020V946.4H1056.7V1020M1056.4 946.4V944.9H1057.3V1020M1058 1020V946.5H1058.6V1020M1058.3 946.5V945.2H1059.2V1020M1056.8 944.9V943.3H1058.8V945.2M1059.8 1020V944.3H1060.4V1020M1060.1 944.3V941.6H1061V1020M1060.9 941.6V935.6H1061.6V1020M1063.5 1020V956.7H1064.1V1020M1063.8 956.7V955.1H1064.7V1020M1062.9 1020V953H1064.2V955.1M1062.3 1020V951.4H1063.5V953M1065.3 1020V966.2H1065.9V1020M1066.5 1020V967.7H1067.2V1020M1066.8 967.7V966.3H1067.8V1020M1065.6 966.2V964.2H1067.2V966.3M1069.6 1020V968.2H1070.2V1020M1069 1020V966.5H1069.9V968.2M1068.4 1020V964.6H1069V966.5M1066.4 964.2V962.7H1068.6V964.6M1071.4 1020V954.5H1072.1V1020M1071.7 954.5V953.1H1072.7V1020M1070.8 1020V950.6H1072.2V953.1M1073.3 1020V957.1H1073.9V1020M1073.6 957.1V955.1H1074.5V1020M1074.3 955.1V953.1H1075.1V1020M1075.7 1020V954.2H1076.3V1020M1074.9 953.1V951.9H1076V954.2M1077 1020V954.4H1077.6V1020M1075.6 951.9V949.8H1077.3V954.4M1071.5 950.6V948.2H1076.5V949.8M1078.2 1020V952.8H1078.8V1020M1078.5 952.8V951.5H1079.4V1020M1079.1 951.5V948H1080V1020M1079.7 948V943.3H1080.6V1020M1080.2 943.3V940.6H1081.2V1020M1081.1 940.6V939.2H1081.9V1020M1086.8 1020V949.6H1087.4V1020M1086.1 1020V947.1H1087.1V949.6M1085.5 1020V945.4H1086.1V947.1M1084.9 1020V943.3H1085.5V945.4M1084.3 1020V942.1H1084.9V943.3M1083.7 1020V940.7H1084.5V942.1M1088 1020V952.4H1088.6V1020M1088.3 952.4V950.8H1089.2V1020M1088.9 950.8V948.8H1089.8V1020M1090.4 1020V959.9H1091V1020M1090.7 959.9V953.1H1091.7V1020M1091.4 953.1V951.2H1092.3V1020M1092 951.2V949.1H1092.9V1020M1089.4 948.8V946.8H1092.4V949.1M1093.5 1020V954.1H1094.1V1020M1095.3 1020V958.8H1095.9V1020M1095.6 958.8V957.4H1096.6V1020M1094.7 1020V954.2H1096.3V957.4M1095.5 954.2V952.5H1097.2V1020M1093.8 954.1V951.2H1096.3V952.5M1097.8 1020V950.6H1098.4V1020M1099 1020V950H1099.6V1020M1098.1 950.6V939.4H1099.3V950M1100.8 1020V951.1H1101.5V1020M1100.2 1020V941H1101.2V951.1M1098.8 939.4V937.8H1100.6V941M1102.7 1020V947.9H1103.3V1020M1102.1 1020V946.4H1103V947.9M1105.1 1020V949.8H1105.7V1020M1104.5 1020V947.6H1105.4V949.8M1103.9 1020V946H1104.5V947.6M1102.6 946.4V944.3H1104.2V946M1107 1020V956H1107.6V1020M1106.4 1020V947.6H1107.3V956M1108.8 1020V961.3H1109.4V1020M1108.2 1020V954.6H1109.1V961.3M1110 1020V960.7H1110.6V1020M1111.3 1020V960.2H1111.9V1020M1111.6 960.2V958.9H1112.5V1020M1112.2 958.9V957.4H1113.1V1020M1112.8 957.4V949.8H1113.7V1020M1110.3 960.7V941.9H1113.3V949.8M1108.7 954.6V940.5H1111.8V941.9M1106.8 947.6V938.7H1110.2V940.5M1114.3 1020V967.6H1114.9V1020M1114.6 967.6V966.4H1115.5V1020M1116.2 1020V969H1116.8V1020M1116.5 969V967.1H1117.4V1020M1116.9 967.1V965.6H1118V1020M1115 966.4V964.4H1117.4V965.6M1116.2 964.4V963.2H1118.6V1020M1119.2 1020V962.9H1119.8V1020M1117.4 963.2V961.3H1119.5V962.9M1118.5 961.3V960.1H1120.5V1020M1121.1 1020V961.2H1121.7V1020M1122.3 1020V962.2H1122.9V1020M1122.6 962.2V960.1H1123.5V1020M1121.4 961.2V958.6H1123.4V960.1M1125.4 1020V959.6H1126V1020M1124.7 1020V958.1H1125.7V959.6M1124.1 1020V956.9H1125.3V958.1M1124.7 956.9V955H1126.6V1020M1127.8 1020V962.4H1128.4V1020M1128.1 962.4V960.3H1129V1020M1127.2 1020V958.1H1128.8V960.3M1130.9 1020V953.6H1131.5V1020M1131.2 953.6V951.6H1132.1V1020M1130.3 1020V950.3H1131.7V951.6M1129.6 1020V948.5H1131V950.3M1133.3 1020V959.5H1133.9V1020M1132.7 1020V957.8H1133.6V959.5M1134.5 1020V957.2H1135.2V1020M1133.2 957.8V955.6H1134.8V957.2M1135.8 1020V885.2H1136.4V1020M1136.1 885.2V882.4H1137V1020M1139.4 1020V890.8H1140.1V1020M1138.8 1020V888.8H1139.7V890.8M1141.3 1020V937.5H1141.9V1020M1142.5 1020V938.3H1143.1V1020M1141.6 937.5V936.1H1142.8V938.3M1140.7 1020V927.3H1142.1V936.1M1143.7 1020V939H1144.3V1020M1144 939V936.2H1145V1020M1144.8 936.2V929.6H1145.6V1020M1146.8 1020V933.9H1147.4V1020M1147.1 933.9V931.9H1148V1020M1146.2 1020V930.1H1147.6V931.9M1149.9 1020V938.8H1150.5V1020M1149.2 1020V936.6H1150.2V938.8M1148.6 1020V935.1H1149.7V936.6M1151.1 1020V935H1151.7V1020M1149.2 935.1V933.7H1151.4V935M1153.5 1020V939.3H1154.1V1020M1152.9 1020V937.6H1153.8V939.3M1152.3 1020V935.4H1153.5V937.6M1155.4 1020V937H1156V1020M1154.8 1020V934.9H1155.7V937M1152.9 935.4V933.3H1154.9V934.9M1156.6 1020V905.6H1157.2V1020M1156.9 905.6V888.5H1157.8V1020M1160.3 1020V905.8H1160.9V1020M1159.7 1020V903.7H1160.6V905.8M1161.5 1020V912.4H1162.1V1020M1161.8 912.4V891.5H1162.7V1020M1164.6 1020V888.4H1165.2V1020M1166.4 1020V875.3H1167V1020M1165.8 1020V872.9H1166.7V875.3M1167.6 1020V886.6H1168.2V1020M1167.9 886.6V881H1168.8V1020M1168.3 881V879H1169.5V1020M1170.7 1020V883.6H1171.3V1020M1171 883.6V879.4H1171.9V1020M1171.7 879.4V877.7H1172.5V1020M1170.1 1020V876.1H1172.3V877.7M1174.4 1020V888.7H1175V1020M1174.7 888.7V886.8H1175.6V1020M1173.7 1020V885.2H1175.2V886.8M1173.1 1020V883.6H1174.5V885.2M1173.8 883.6V882.2H1176.2V1020M196.6 1020V192.3H199.3V446.2M197.2 1020V446.2H201.4V547.8M197.9 1020V547.8H204.8V613.5M198.4 698.2V613.5H210.7V616.2M200.3 698.3V616.2H221.1V705.8M205.2 718.4V705.8H236.9V709.1M218.1 808.2V709.1H255.8V763M224 828.2V763H287.1V772.8M225.8 844.7V772.8H349V780M227 1020V780H470.7V781.4M229.1 790.5V781.4H712.3V783.8M268.8 814.7V783.8H1155.4V809M227.4 846V790.5H231.4V811.8M228.6 831.1V811.8H234V818.2M231.3 835.8V818.2H235.1V826.7M232.8 854.7V826.7H237.1V841.7M234.4 853.9V841.7H239.4V849.8M237.4 851.9V849.8H240.9V858M239.3 860.3V858H242.4V868M240.8 871.3V868H243.6V876M248.2 821.7V814.7H289.4V818.7M259.8 832.4V818.7H318.6V826.5M289.9 853V826.5H346.8V833M307.9 837.6V833H385.5V835.5M348.5 855.6V835.5H421.2V841.9M392.7 855.5V841.9H449.6V847.7M422.7 862V847.7H476.3V850.4M440.6 854V850.4H511.6V851.7M484.7 859.5V851.7H538V852.6M489 862V852.6H586.4V859.2M505 867.4V859.2H667V867M584.9 882.7V867H749.5V869.4M705.9 874.9V869.4H792.4V871M733.6 875.6V871H849.8V872.8M745.3 887.6V872.8H954V879M861.2 882.6V879H1046V880.5M757.3 910.8V882.6H966.2V884.6M914.4 891V884.6H1016.5V885.3M1013.3 940.5V885.3H1019.8V901M849 909.3V891H981V895M244.3 885.1V821.7H252.6V837.5M249.5 887.4V837.5H255.4V881M247.7 896.8V887.4H251.9V891.7M257.3 877.9V832.4H263V857.7M260.5 878.1V857.7H265.3V861.4M263 905.1V861.4H267.4V866M264.6 889.8V866H269.8V871.3M266.2 904.8V871.3H273.6V874.5M269 903.6V874.5H277.9V908.6M266.7 908.2V903.6H271.8V910.7M281.5 872.8V853H298.6V861.7M279 894.5V872.8H283.9V904.5M294 894.6V861.7H302.8V893.4M292.2 927.3V894.6H296.3V900.3M301 906.6V893.4H304.3V900.7M281.5 919.5V904.5H287.1V909.6M285.2 912V909.6H288.7V918.9M306.1 899.5V837.6H310.2V855.5M307.9 901.9V855.5H313.9V876.5M309.8 884.6V876.5H317.2V897.6M308.4 909V884.6H312.1V891.6M310.7 897.4V891.6H313.9V900.8M327.8 861.5V855.6H369.5V860M320.4 892.3V861.5H334.8V870.9M325.5 884.6V870.9H344V876.5M340.8 906.8V876.5H346.8V892.5M342.6 908V892.5H350.5V896.2M344 905.9V896.2H355.6V903M350.5 923.5V903H360.8V912.5M358.5 938.8V912.5H364V923.1M361.2 935.9V923.1H366.4V939.5M322.2 904.9V884.6H329.7V889.7M324.6 918.5V889.7H335.2V895.3M331.5 920.5V895.3H337.1V912.8M375.6 869.3V855.5H409.6V865M372.6 903.5V869.3H379.3V878.7M375.9 894.7V878.7H382.1V885.2M380.7 901.4V885.2H383.5V900M382.6 902.6V900H384.9V905.6M402.5 872.7V865H416.4V868.5M392 885.6V872.7H412.9V889.7M388.1 930.2V885.6H396.4V889.4M391.4 910V889.4H400.6V899.5M396.6 909.3V899.5H405V904.4M402.5 932.7V904.4H407.6V914.4M394.1 924.5V909.3H399.2V927.8M405.7 921V914.4H408.5V921.5M425.9 886.9V854H455.2V862.6M431.2 869V862.6H479.6V868.3M427.5 893.9V869H435.8V873.1M428.9 895.5V873.1H443.2V875.2M430.7 890.1V875.2H454.6V888.1M442.8 900.9V888.1H466.4V893.5M461.2 900V893.5H471V911.3M438.6 906.9V900.9H446.4V903.7M443.7 938.1V903.7H449.2V912.5M446.4 940V912.5H451.5V917M436.7 922V906.9H440.9V913.6M468.7 933.9V911.3H474.5V929M477.2 914.8V868.3H480V912.4M500.4 914.3V867.4H510.1V880.4M504.3 911.9V880.4H514.3V888M507.6 917.6V888H521.2V893.8M510.8 900.6V893.8H531.4V898M527.7 923.4V898H534.2V907M529.1 919.5V907H539.8V912.8M532.8 926V912.8H546.2V916.9M540.2 925.5V916.9H552.2V923.7M548.5 948.2V923.7H555V948.7M508.8 929.8V900.6H513.8V913M510.1 937.9V913H518.5V916.5M515.2 921.7V916.5H521.2V924.6M517.5 937.6V924.6H523.5V942.6M567.7 885.8V882.7H602.3V885.5M560.6 889.8V885.8H575.4V888M558.4 909.7V889.8H563.6V896.1M560.9 901.5V896.1H566.9V900.3M564.3 907.1V900.3H569.4V916.5M567.5 920.4V916.5H571.7V917.8M584.5 898.1V885.5H619.9V894.8M602.1 903.7V894.8H637.3V900.6M622 910.9V900.6H652.5V903M581.2 928.8V898.1H587.7V900.9M583.5 927.4V900.9H591.4V907.6M587.7 916.7V907.6H594.7V912.8M584.9 931.1V916.7H590V921.7M599.5 919.7V903.7H605V909.4M615.5 921.8V910.9H628.9V916.7M611.5 931.9V921.8H619.2V954.3M622.9 935.4V916.7H634.5V925M629.9 939.7V925H639.6V927.3M633.5 939V927.3H645.1V931M641 942.3V931H648.8V941.5M691.6 884.7V874.9H720.4V879M673.4 895.8V884.7H710.4V887.6M660.4 908.5V895.8H686.3V906.5M675.2 918V906.5H697V912.6M657.2 945.7V908.5H664.1V937M672.4 929.4V918H678.5V923.1M691.9 930.5V912.6H701.6V919.4M688 934.4V930.5H694.6V935.6M705.8 940V887.6H714.5V892.8M709.2 908.9V892.8H717.8V896.8M708 933.8V908.9H712.2V922.5M725.9 886V875.6H741.4V883M723.3 1020V886H730.3V889.2M724.7 896.9V889.2H734.4V898.5M730.7 906.4V898.5H738.1V911.9M728.4 914.9V906.4H732.6V922.7M743.2 1020V887.6H748.3V891.9M745.1 900.6V891.9H750.6V899M747.9 900.5V899H753V905.5M754.4 943.7V910.8H761.3V926.3M758.7 936.9V926.3H763.1V938.9M807.9 915.2V909.3H890V912.1M780.4 917.8V915.2H836V917.6M764.2 941.5V917.8H797.7V919.1M780.4 927V919.1H814.4V924.1M768.5 932.9V927H791.2V932.9M808.5 950.6V924.1H819.8V932.9M765.8 939.2V932.9H771.2V938.9M768.2 959.8V938.9H774.2V944.8M771.2 960.8V944.8H777.2V950.2M787.2 938.4V932.9H795.2V938.9M792.3 965.1V938.9H799.3V944.8M796 963.4V944.8H802.5V949.8M816 958.7V932.9H823V953.5M831.2 924.8V917.6H840.3V921.6M829 940V924.8H832.8V930.8M835.5 948.1V921.6H844.1V929.7M838.7 940.8V929.7H850V932.4M845.7 936.4V932.4H853.8V947.3M863.2 917.9V912.1H916.5V914.8M907.4 957.9V914.8H924.7V922.2M857.1 945.2V917.9H869.3V919.3M860.5 943V919.3H878V922.6M868.8 932.5V922.6H887.8V924.6M885 959.1V924.6H890.5V930M886.9 949.5V930H894.7V933M888.7 939.9V933H900.7V938M897.5 949.8V938H903V949.7M887.3 963.2V939.9H891.9V945.7M864.2 938V932.5H873.9V938M862.3 951.3V938H866V941.9M871.1 958V938H876.7V943.1M873.9 960V943.1H879V958.2M915.7 937.6V922.2H933.6V923.4M925.9 963.9V923.4H940.4V925.5M927.5 953.1V925.5H951.9V937.3M935.5 942.6V937.3H967.4V941M961.1 952.8V941H972.8V942.4M957.7 967.1V952.8H964.5V956.2M961.4 971V956.2H967.3V968.5M931.5 947.5V942.6H940.1V944.4M937.6 962.3V944.4H943.5V948.8M940.7 952.6V948.8H946.3V952.5M943.2 966.3V952.5H948.1V955.9M945.7 958.3V955.9H950V961.6M930.2 957.1V947.5H933.6V954.2M911.4 947.5V937.6H920.1V943.8M909 955.9V947.5H914.8V961.4M917.9 970.4V943.8H922.8V956.6M974.4 924.2V895H986.9V897M979.5 915.7V897H994.4V900.6M986.9 904.7V900.6H1001.3V902.6M995.3 912.1V902.6H1007.3V907.5M1003.6 919.8V907.5H1010.6V923.1M984.6 932.8V904.7H989.3V937.7M993.4 932V912.1H997.1V936.8M1001.8 949.4V919.8H1005.5V928.8M1016.1 918.8V901H1024V907.5M1021.2 935.8V907.5H1026.8V916.3M1023.5 929.5V916.3H1029.1V921M1031.8 895V880.5H1059.6V884.2M1038 893.7V884.2H1080.5V891.8M1035.5 916.5V893.7H1041.1V925.3M1052.4 906.3V891.8H1107.3V904.8M1048 930V906.3H1057.3V915.4M1054.1 939.8V915.4H1060.1V924.6M1057.8 943.3V924.6H1061.5V935.6M1087.2 917.4V904.8H1127.5V911.1M1074.3 924.6V917.4H1100.6V923M1066.4 933.4V924.6H1082.6V927.5M1062.9 951.4V933.4H1070.8V938M1067.5 962.7V938H1074V948.2M1092.8 934.5V923H1107.6V929.9M1101.1 935V929.9H1113.6V933M1108.5 938.7V933H1119.5V960.1M1099.7 937.8V935H1103.4V944.3M1090.9 946.8V934.5H1095.1V951.2M1123.8 927.6V911.1H1130.3V920.6M1128 958.1V920.6H1131.7V930.8M1130.3 948.5V930.8H1134V955.6M1122.4 958.6V927.6H1125.7V955M1144.9 859V809H1166.5V842M1137.7 879V859H1151.4V874.9M1144.9 894.8V874.9H1158.5V884M1141.4 927.3V894.8H1148.3V900.4M1145.4 929.6V900.4H1149.7V920.6M1146.9 930.1V920.6H1152.5V929.6M1150.2 933.7V929.6H1153.9V933.3M1163.5 866V842H1168.1V851.8M1165.8 872.9V851.8H1171.2V859.9M1168.9 879V859.9H1173V873.8M1171.2 876.1V873.8H1175V882.2M204.6 850.1V718.4H205.9V745.6M205.2 1020V745.6H206.6V774M205.9 1020V774H207.2V790M206.4 1020V790H208.1V797M207.2 1020V797H208.9V803M208 848.8V803H209.8V808.5M208.9 1020V808.5H210.8V815.5M209.8 843.4V815.5H211.8V821M210.8 844.6V821H212.8V826.3M211.9 1020V826.3H213.8V832M212.8 841.8V832H214.7V837M213.8 1020V837H215.6V843M214.8 844.8V843H216.3V851.6M217.4 1020V808.2H218.8V815M218.1 1020V815H219.5V822M218.8 1020V822H220.2V830M219.4 1020V830H221V838M220.2 854.7V838H221.8V842.3M369.2 896.3V860H369.8V864.3M369.3 1020V864.3H370.4V866.6M369.9 1020V866.6H370.8V869.6M370.3 1020V869.6H371.3V901.9M415.7 890.5V868.5H417V873.1M416.7 1020V873.1H417.3V874.9M416.7 1020V874.9H417.8V878.8M417.3 1020V878.8H418.3V884.6M422.3 902.2V862H423.1V865.3M422.7 1020V865.3H423.5V868.8M423 1020V868.8H424V904.8M484.4 861.3V859.5H485V863.4M484 866.2V861.3H484.8V892.2M483.8 1020V863.4H484.3V1020M483.2 904.2V866.2H484.3V1020M488.5 880.4V862H489.5V865.9M488.9 1020V865.9H490.1V870.6M489.5 1020V870.6H490.6V875.1M490.3 1020V875.1H490.9V888.9M574.8 908.9V888H576V892.2M575.5 904.8V892.2H576.4V894.6M576.1 1020V894.6H576.7V897.5M652.1 916.9V903H652.9V905M652.4 1020V905H653.4V906.7M652.9 1020V906.7H653.9V911.7M720 887.5V879H720.8V883.7M720.4 894.7V883.7H721.1V889.8M720.8 1020V887.5H721.4V1020M720.7 1020V889.8H722V1020M741 912.6V883H741.8V885.7M741.5 1020V885.7H742.2V890.1M741.9 1020V890.1H742.4V1020M1031.4 921.3V895H1032.3V897.9M1031.8 1020V897.9H1032.8V900.1M1032.2 1020V900.1H1033.4V904.3M1032.9 1020V904.3H1033.9V918M1082.2 939.2V927.5H1083V930.8M1082.4 1020V930.8H1083.6V933.9M1083.2 1020V933.9H1084.1V940.7M1137.3 882.4V879H1138.1V882.7M1137.6 1020V882.7H1138.7V884.6M1138.4 1020V884.6H1138.9V888.8M1158.1 888.5V884H1158.9V887.8M1158.3 1020V887.8H1159.4V892.1M1159 1020V892.1H1159.7V903.7M1163.2 891.5V866H1163.8V869.8M1163.3 1020V869.8H1164.3V874.4M1163.9 1020V874.4H1164.7V888.4M199 1020V616.6H199.6V1020M199.6 1020V617.2H200.2V1020M200.6 1020V668H201V1020M201.5 1020V722H202.1V1020M202.1 1020V775H202.8V1020M202.8 1020V815H203.5V1020" stroke="#000" stroke-width="2" fill="none" stroke-linejoin="miter" stroke-linecap="butt"/>
<g fill="#fff"><rect x="209.3" y="806.5" width="0.8" height="6.9"/><rect x="213.3" y="827.9" width="1" height="10.9"/><rect x="215.2" y="837.8" width="1.2" height="7.3"/><rect x="224.5" y="773.7" width="1.2" height="12.7"/><rect x="229.8" y="833" width="1.1" height="13.1"/><rect x="237.1" y="852.9" width="1" height="4.9"/><rect x="245.9" y="898.1" width="1" height="14.9"/><rect x="249.5" y="900.1" width="1.1" height="8"/><rect x="252.1" y="892.9" width="1.2" height="14.7"/><rect x="264.6" y="872.1" width="1" height="6.1"/><rect x="268" y="914.7" width="1" height="16.6"/><rect x="271.2" y="916.2" width="1.1" height="7.4"/><rect x="272.8" y="912.3" width="0.9" height="9.9"/><rect x="275.4" y="921.2" width="1.2" height="6.5"/><rect x="278.3" y="877.5" width="0.8" height="17.6"/><rect x="282.8" y="921.8" width="0.7" height="8.8"/><rect x="284.7" y="921.2" width="0.9" height="9.7"/><rect x="287.7" y="921.3" width="0.9" height="8"/><rect x="289.5" y="919.8" width="0.7" height="11.3"/><rect x="295.2" y="908.4" width="1.1" height="4.9"/><rect x="296.9" y="906.7" width="0.8" height="12"/><rect x="311.7" y="904" width="0.7" height="6.9"/><rect x="318.4" y="901.4" width="0.7" height="14.6"/><rect x="331.4" y="926" width="1" height="17.6"/><rect x="334.5" y="916.3" width="0.7" height="11"/><rect x="337.6" y="913.9" width="0.8" height="12.1"/><rect x="340.6" y="878.8" width="0.8" height="14.2"/><rect x="345.1" y="910.7" width="1" height="9.1"/><rect x="347.3" y="926.8" width="0.8" height="5.5"/><rect x="351.9" y="935.3" width="1.1" height="4.3"/><rect x="354.6" y="944.8" width="0.9" height="17.5"/><rect x="359.6" y="938.6" width="1" height="6.8"/><rect x="361.8" y="940.7" width="1" height="13.1"/><rect x="363.3" y="944.2" width="1" height="14.4"/><rect x="371.2" y="870.2" width="1.2" height="8.1"/><rect x="374.7" y="896.6" width="1.2" height="17.2"/><rect x="381.1" y="902.4" width="1" height="17.4"/><rect x="392.7" y="911.6" width="0.8" height="17.4"/><rect x="398.8" y="929.4" width="0.9" height="12.6"/><rect x="404.9" y="924.3" width="1.1" height="14.2"/><rect x="410.7" y="894.6" width="1" height="10"/><rect x="413.9" y="893" width="1" height="7.8"/><rect x="415.5" y="870.3" width="1.1" height="9.9"/><rect x="417.3" y="880.3" width="1.2" height="8.1"/><rect x="423" y="866.3" width="1" height="16.4"/><rect x="425.8" y="872.4" width="0.9" height="15.1"/><rect x="430.8" y="892.9" width="0.8" height="12.4"/><rect x="436.7" y="928.8" width="0.9" height="15.1"/><rect x="439.3" y="917.8" width="1.1" height="17.9"/><rect x="447.1" y="940.9" width="1.1" height="12.5"/><rect x="451.7" y="918.9" width="0.7" height="16.2"/><rect x="458.9" y="926.8" width="1.2" height="12.5"/><rect x="465.5" y="935.5" width="1.1" height="4.5"/><rect x="473.2" y="933.5" width="1.2" height="9.1"/><rect x="483.9" y="862.5" width="1" height="8.2"/><rect x="486.6" y="884.1" width="0.9" height="5.6"/><rect x="491.3" y="891" width="0.9" height="7.6"/><rect x="508.7" y="916" width="1.1" height="11.8"/><rect x="516.1" y="927.2" width="1" height="17.1"/><rect x="532.3" y="926.9" width="1.2" height="8.6"/><rect x="535.3" y="941.8" width="0.8" height="4.9"/><rect x="542.1" y="930.3" width="1" height="9.8"/><rect x="550.5" y="951.2" width="1" height="16.9"/><rect x="554.9" y="926" width="1.2" height="9.1"/><rect x="561.1" y="902.4" width="1" height="13.5"/><rect x="564.4" y="910" width="0.8" height="11"/><rect x="574.6" y="889.3" width="1" height="8"/><rect x="576.8" y="899.8" width="1" height="15.5"/><rect x="581" y="899.7" width="0.8" height="4.5"/><rect x="583.4" y="918.5" width="1.2" height="13.8"/><rect x="587.6" y="926.6" width="0.8" height="5.1"/><rect x="589.4" y="922.9" width="1" height="17.5"/><rect x="592.3" y="922.4" width="1" height="5.5"/><rect x="611.5" y="942.3" width="0.7" height="13.2"/><rect x="623.5" y="938.3" width="0.9" height="13.1"/><rect x="626.7" y="942.2" width="0.8" height="9.1"/><rect x="629.2" y="942.9" width="0.9" height="9.2"/><rect x="633.3" y="925.9" width="0.7" height="13.9"/><rect x="640.2" y="942.6" width="0.9" height="7.3"/><rect x="642.8" y="946.2" width="0.9" height="8.2"/><rect x="646.8" y="948.8" width="1.1" height="14.4"/><rect x="650.6" y="920" width="0.8" height="8.1"/><rect x="661" y="941.5" width="1" height="8.8"/><rect x="664.6" y="938.6" width="1.1" height="12.4"/><rect x="667.7" y="938.7" width="1" height="11.7"/><rect x="672.3" y="932.9" width="0.8" height="15.5"/><rect x="673.9" y="931.8" width="1.1" height="7"/><rect x="678.1" y="931.1" width="0.8" height="6.8"/><rect x="679.9" y="939.7" width="0.7" height="7"/><rect x="682.1" y="950.7" width="1.2" height="14.3"/><rect x="685.9" y="943.5" width="1.1" height="15.4"/><rect x="688.3" y="935.7" width="1.2" height="16.8"/><rect x="689.8" y="946.8" width="1.2" height="11.2"/><rect x="692.9" y="941.7" width="1.2" height="17.7"/><rect x="700.5" y="919.9" width="0.9" height="6"/><rect x="713" y="924.3" width="1.1" height="13.7"/><rect x="715.2" y="924.7" width="0.7" height="10.8"/><rect x="719.7" y="896.7" width="0.8" height="13.7"/><rect x="721.8" y="890.3" width="1" height="9.7"/><rect x="723.9" y="891.6" width="1.1" height="6.6"/><rect x="729.5" y="921.1" width="1.1" height="14.9"/><rect x="732.7" y="924.4" width="1.1" height="13.1"/><rect x="734.5" y="925" width="0.9" height="16.4"/><rect x="745.3" y="902.4" width="1.2" height="12.6"/><rect x="748.6" y="901.9" width="0.8" height="12.5"/><rect x="750.5" y="906.2" width="0.8" height="14.1"/><rect x="758.6" y="938.3" width="1" height="10.2"/><rect x="772.5" y="964.2" width="0.8" height="12.3"/><rect x="778.4" y="951.7" width="1.2" height="14.8"/><rect x="780.3" y="955.1" width="0.9" height="13.3"/><rect x="783.3" y="942" width="1" height="11.7"/><rect x="790.1" y="966.1" width="1.2" height="14.6"/><rect x="798.9" y="965" width="1" height="9.2"/><rect x="802.1" y="955.3" width="1" height="5.6"/><rect x="820.5" y="959.1" width="0.9" height="6.8"/><rect x="824.5" y="955.5" width="0.7" height="9.4"/><rect x="826.8" y="948" width="1" height="10.9"/><rect x="832.3" y="934.4" width="1" height="17.3"/><rect x="835.4" y="950.8" width="1" height="16.3"/><rect x="838.8" y="943.6" width="1.1" height="11.2"/><rect x="842.2" y="946.8" width="0.9" height="10.6"/><rect x="847.8" y="952.9" width="0.8" height="16.9"/><rect x="850.9" y="952.2" width="1.1" height="14.3"/><rect x="854.5" y="949.4" width="1.2" height="10.3"/><rect x="856.7" y="920.9" width="0.8" height="16.6"/><rect x="859.2" y="947.5" width="1" height="12.5"/><rect x="861.4" y="940.2" width="1.2" height="14"/><rect x="865.9" y="944.6" width="0.9" height="6.7"/><rect x="869.4" y="960.4" width="1.1" height="8.1"/><rect x="871.5" y="958.9" width="0.8" height="6.6"/><rect x="874.5" y="963.6" width="1" height="10.1"/><rect x="879.8" y="962.5" width="0.7" height="5.7"/><rect x="886.7" y="934.6" width="0.9" height="8.6"/><rect x="888.6" y="965" width="0.8" height="11.9"/><rect x="890.2" y="952.6" width="1.2" height="5.8"/><rect x="893.3" y="948.1" width="0.9" height="13.7"/><rect x="896.9" y="951.9" width="1.1" height="13.5"/><rect x="900" y="951.7" width="0.8" height="6.5"/><rect x="902.9" y="952.2" width="0.9" height="13.3"/><rect x="910.7" y="964.4" width="0.8" height="4"/><rect x="917.5" y="971.6" width="1.2" height="12.3"/><rect x="920.9" y="961.1" width="1" height="17.2"/><rect x="923.4" y="961.2" width="0.8" height="12.3"/><rect x="930.7" y="957" width="0.8" height="6.2"/><rect x="932.5" y="957.3" width="0.9" height="9.4"/><rect x="935.5" y="962.7" width="0.9" height="10.2"/><rect x="938.7" y="957.7" width="0.9" height="8.3"/><rect x="949.8" y="964.2" width="1.2" height="5.4"/><rect x="953.4" y="971.5" width="1" height="10"/><rect x="958" y="969.6" width="1.2" height="4.6"/><rect x="962.1" y="973.1" width="1" height="17.1"/><rect x="963.9" y="975.7" width="0.7" height="5.4"/><rect x="965.5" y="975.6" width="1.1" height="16.4"/><rect x="971.1" y="951.6" width="1.1" height="5.2"/><rect x="981.9" y="936.3" width="1.2" height="11.1"/><rect x="984.3" y="934.8" width="1" height="6.7"/><rect x="986.1" y="937.9" width="0.9" height="7.8"/><rect x="997" y="940.2" width="1.2" height="11.2"/><rect x="1006" y="931.9" width="1.2" height="17.8"/><rect x="1010.1" y="907.6" width="0.9" height="7.8"/><rect x="1016" y="921.4" width="1" height="15.2"/><rect x="1018.5" y="943.2" width="0.8" height="12.4"/><rect x="1024.5" y="935.9" width="1.1" height="7.8"/><rect x="1029.3" y="922.5" width="1.1" height="17.6"/><rect x="1031.6" y="895.9" width="1.2" height="10.4"/><rect x="1045.4" y="933.8" width="1.1" height="10.1"/><rect x="1049.4" y="938" width="1" height="11.4"/><rect x="1058.8" y="943.5" width="1.1" height="8"/><rect x="1065.8" y="963.5" width="0.8" height="12.1"/><rect x="1070.1" y="968.4" width="1.2" height="11.5"/><rect x="1074.7" y="955" width="1" height="13.7"/><rect x="1076.5" y="950.7" width="1" height="8.7"/><rect x="1079" y="949.2" width="1.2" height="9.3"/><rect x="1082.7" y="928.9" width="0.8" height="8.2"/><rect x="1087.3" y="951.2" width="1.1" height="16.1"/><rect x="1090.5" y="951.8" width="1.1" height="9.4"/><rect x="1092.9" y="951" width="1.2" height="9.3"/><rect x="1097.1" y="954" width="1.2" height="15.2"/><rect x="1101.4" y="946.2" width="1.1" height="9.4"/><rect x="1104" y="945.5" width="0.8" height="11"/><rect x="1110.5" y="958.7" width="0.8" height="7.7"/><rect x="1113.7" y="952.4" width="0.7" height="16"/><rect x="1128.2" y="949.7" width="0.8" height="13.4"/><rect x="1136.3" y="882.6" width="0.8" height="13.6"/><rect x="1137.8" y="885.3" width="1.2" height="11.2"/><rect x="1140.1" y="895.8" width="1.2" height="12.1"/><rect x="1146.1" y="921.6" width="1.1" height="5.6"/><rect x="1148.4" y="934.9" width="1.1" height="17.4"/><rect x="1164.1" y="866.6" width="0.9" height="10.1"/></g>
<g fill="#000">
<rect x="188.3" y="1034.2" width="991.2" height="8.8" rx="4.4"/><rect x="600" y="1034.2" width="579.5" height="8.8"/>
<rect x="188.3" y="1043.6" width="991.2" height="7.6" rx="3.8"/><rect x="600" y="1043.6" width="579.5" height="7.6"/>
<rect x="188.3" y="1051.8" width="991.2" height="8.2" rx="4.1"/><rect x="600" y="1051.8" width="579.5" height="8.2"/>
<rect x="188.3" y="1061.0" width="991.2" height="7.6" rx="3.8"/><rect x="600" y="1061.0" width="579.5" height="7.6"/>
</g>
</svg>
</body></html>
